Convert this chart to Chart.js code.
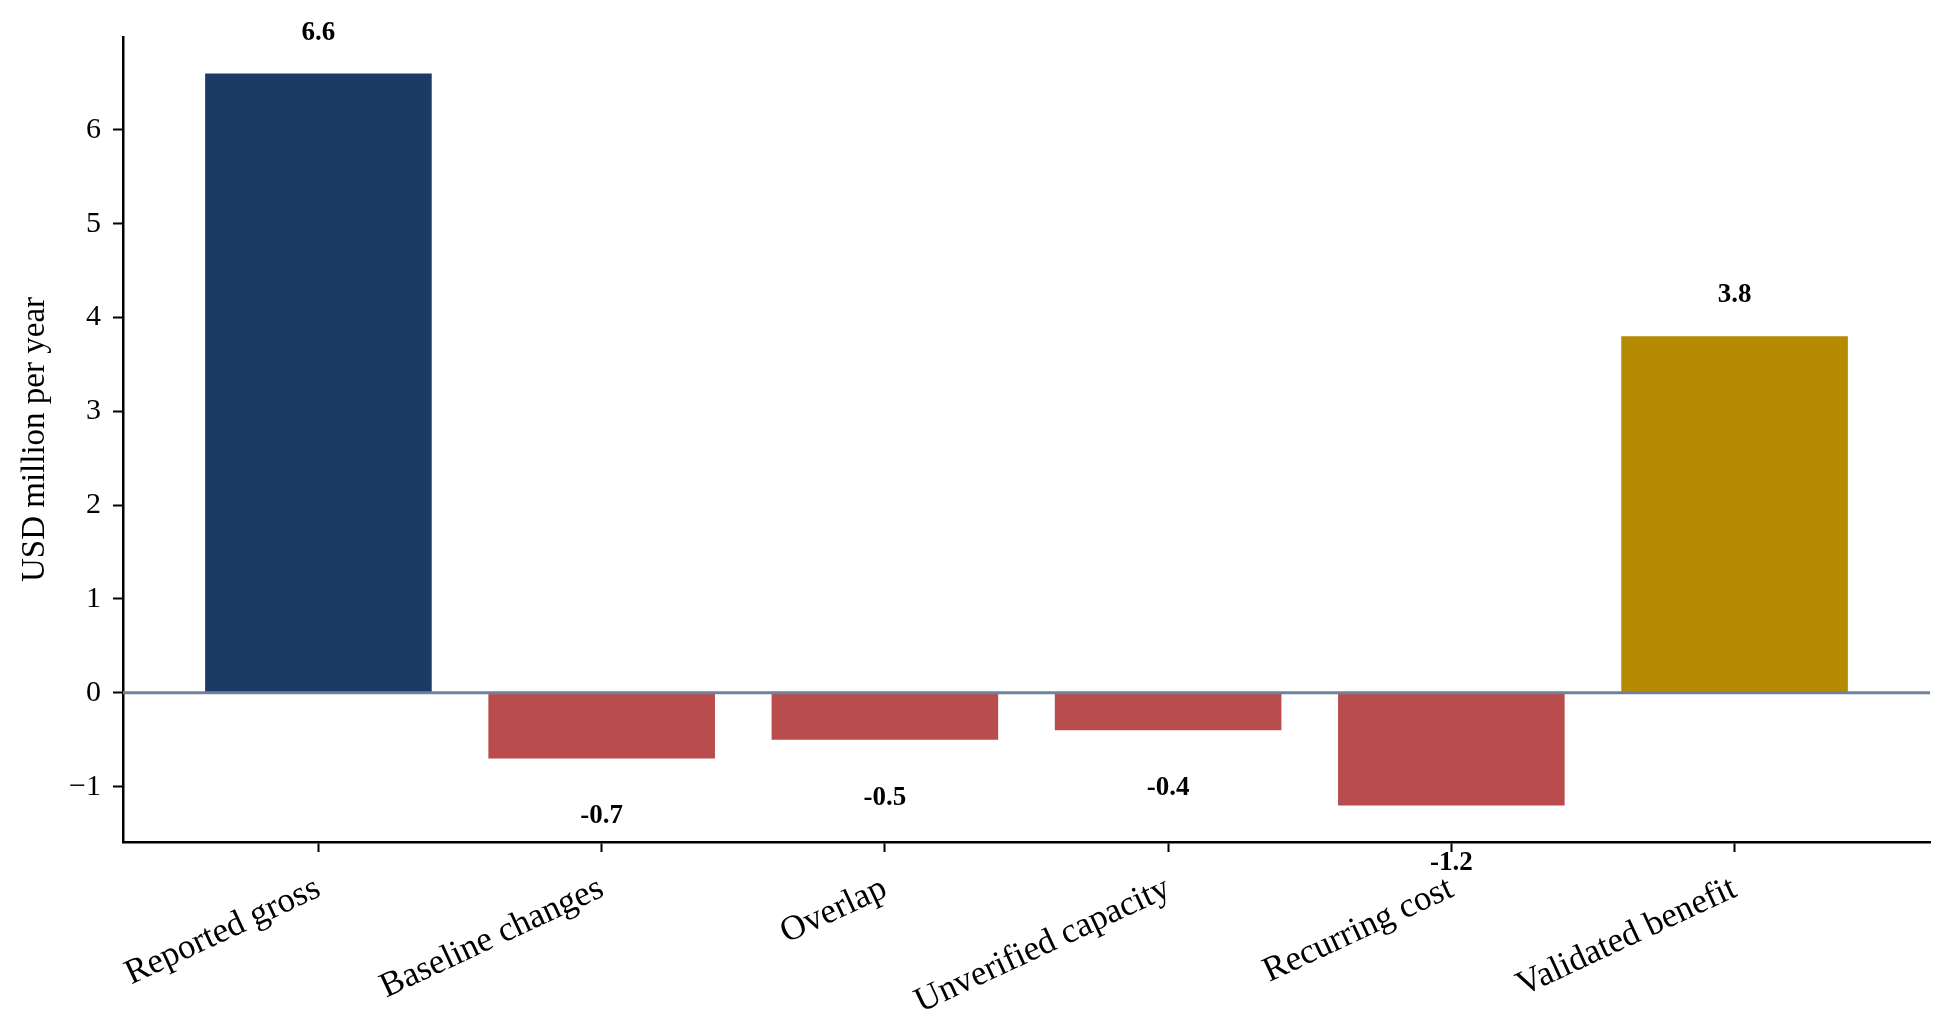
<!DOCTYPE html>
<html>
<head>
<meta charset="utf-8">
<title>Reported vs validated benefit</title>
<script src="https://cdn.jsdelivr.net/npm/chart.js@4.4.1/dist/chart.umd.min.js"></script>
<style>
  html, body { margin: 0; padding: 0; background: #fff; }
  #wrap { width: 1951px; height: 1027px; }
</style>
</head>
<body>
<div id="wrap"><canvas id="bridge" width="1951" height="1027"></canvas></div>
<script>
// ── data ─────────────────────────────────────────────
const CATEGORIES = ['Reported gross', 'Baseline changes', 'Overlap', 'Unverified capacity', 'Recurring cost', 'Validated benefit'];
const VALUES     = [6.6, -0.7, -0.5, -0.4, -1.2, 3.8];
const KINDS      = ['gross', 'loss', 'loss', 'loss', 'loss', 'net'];
const Y_TICKS    = [-1, 0, 1, 2, 3, 4, 5, 6];
const Y_RANGE    = [-1.59, 6.99];
const X_RANGE    = [-0.69, 5.69];

const KIND_COLORS = {
  gross: '#1b3a65',
  loss:  '#b94c4c',
  net:   '#b58900',
};

const SERIF = "'Liberation Serif', 'Times New Roman', serif";
const INK   = '#000';

// zero reference line, drawn on top of the bars
const zeroLine = {
  id: 'zeroLine',
  afterDatasetsDraw(chart) {
    const { ctx, chartArea, scales } = chart;
    const y = scales.y.getPixelForValue(0);
    ctx.save();
    ctx.strokeStyle = '#6f829c';
    ctx.lineWidth = 3;
    ctx.beginPath();
    ctx.moveTo(chartArea.left, y);
    ctx.lineTo(chartArea.right, y);
    ctx.stroke();
    ctx.restore();
  },
};

// bold value labels above / below each bar
const valueLabels = {
  id: 'valueLabels',
  afterDatasetsDraw(chart) {
    const { ctx } = chart;
    const meta = chart.getDatasetMeta(0);
    ctx.save();
    ctx.font = `bold 27px ${SERIF}`;
    ctx.fillStyle = INK;
    ctx.textAlign = 'center';
    ctx.textBaseline = 'middle';
    meta.data.forEach((bar, i) => {
      const v = VALUES[i];
      const y = v >= 0 ? bar.y - 41 : bar.y + 58;
      ctx.fillText(v.toFixed(1), bar.x, y);
    });
    ctx.restore();
  },
};

new Chart(document.getElementById('bridge'), {
  type: 'bar',
  data: {
    datasets: [{
      data: VALUES.map((v, i) => ({ x: i, y: v })),
      backgroundColor: KINDS.map(k => KIND_COLORS[k]),
      borderWidth: 0,
      barPercentage: 0.8,
      categoryPercentage: 1,
    }],
  },
  options: {
    responsive: false,
    animation: false,
    layout: { padding: { top: 37, right: 21, left: 0, bottom: 0 } },
    plugins: {
      legend: { display: false },
      tooltip: { enabled: false },
    },
    scales: {
      x: {
        type: 'linear',
        min: X_RANGE[0],
        max: X_RANGE[1],
        offset: false,
        afterBuildTicks: s => { s.ticks = CATEGORIES.map((_, i) => ({ value: i })); },
        afterFit: s => { s.height = 185; s.paddingLeft = 0; s.paddingRight = 0; },
        border: { display: true, color: INK, width: 2.5 },
        grid: {
          display: true, drawOnChartArea: false, drawTicks: true,
          tickLength: 10, tickWidth: 2, tickColor: INK, color: INK, offset: false,
        },
        ticks: {
          autoSkip: false, minRotation: 25, maxRotation: 25,
          padding: 16, color: INK,
          font: { family: SERIF, size: 35 },
          callback: v => CATEGORIES[v],
        },
      },
      y: {
        min: Y_RANGE[0],
        max: Y_RANGE[1],
        afterBuildTicks: s => { s.ticks = Y_TICKS.map(v => ({ value: v })); },
        afterFit: s => { s.width = 123; s.paddingTop = 0; s.paddingBottom = 0; },
        border: { display: true, color: INK, width: 2.5 },
        grid: {
          display: true, drawOnChartArea: false, drawTicks: true,
          tickLength: 10, tickWidth: 2, tickColor: INK, color: INK,
        },
        ticks: {
          padding: 12, color: INK,
          font: { family: SERIF, size: 30 },
          callback: v => (v < 0 ? '\u2212' + Math.abs(v) : String(v)),
        },
        title: {
          display: true,
          text: 'USD million per year',
          color: INK,
          font: { family: SERIF, size: 33 },
          padding: { top: 16, bottom: 0 },
        },
      },
    },
  },
  plugins: [zeroLine, valueLabels],
});
</script>
</body>
</html>
